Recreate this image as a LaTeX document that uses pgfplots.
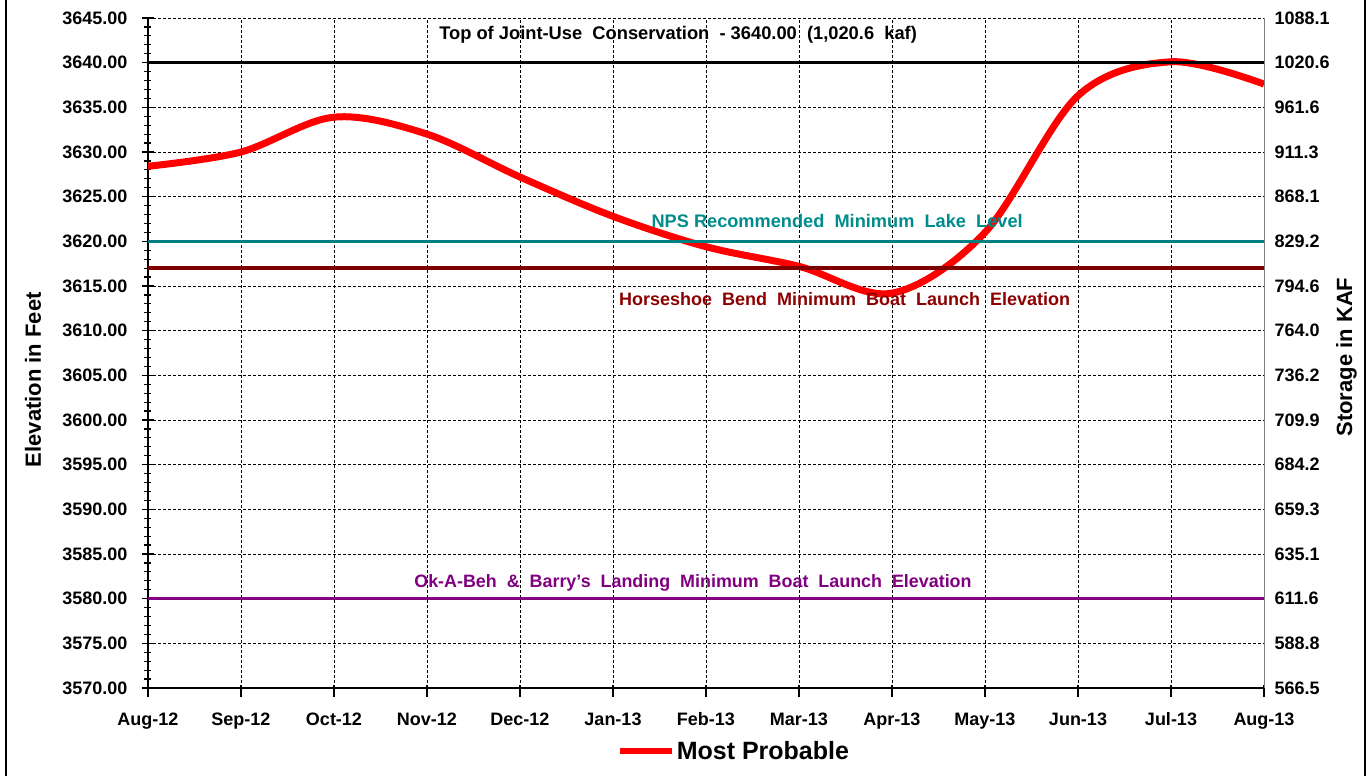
\documentclass[border=0pt]{standalone}
\usepackage{fontspec}
\setmainfont{Liberation Sans}
\usepackage{pgfplots}
\pgfplotsset{compat=1.18}
\definecolor{myteal}{RGB}{0,128,128}
\definecolor{mydred}{RGB}{128,0,0}
\definecolor{mypurple}{RGB}{128,0,128}
\definecolor{tealtext}{RGB}{0,140,140}
\definecolor{dredtext}{RGB}{140,0,0}
\begin{document}
\begin{tikzpicture}
\useasboundingbox (-148pt,-88pt) rectangle (1220pt,688pt);
\draw[line width=1.5pt] (-142pt,-88pt) -- (-142pt,688pt);
\draw[line width=1.5pt] (1217pt,-88pt) -- (1217pt,688pt);
\begin{axis}[
  at={(0pt,0pt)}, anchor=south west,
  scale only axis, width=1116pt, height=670pt,
  xmin=0, xmax=12, ymin=3570, ymax=3645,
  axis x line*=bottom, axis y line*=left,
  axis line style={line width=1.2pt, -},
  xtick={0,...,12},
  xticklabels={Aug-12,Sep-12,Oct-12,Nov-12,Dec-12,Jan-13,Feb-13,Mar-13,Apr-13,May-13,Jun-13,Jul-13,Aug-13},
  ytick={3570,3575,...,3645},
  yticklabels={3570.00,3575.00,3580.00,3585.00,3590.00,3595.00,3600.00,3605.00,3610.00,3615.00,3620.00,3625.00,3630.00,3635.00,3640.00,3645.00},
  minor y tick num=4,
  tick align=center,
  major tick length=12pt, minor tick length=7pt,
  tick style={line width=1.2pt, black},
  x tick style={yshift=-3pt},
  grid=major,
  major grid style={dash pattern=on 3pt off 2pt, line width=0.9pt, black},
  xticklabel style={font=\bfseries\fontsize{18}{20}\selectfont, yshift=-15pt},
  yticklabel style={font=\bfseries\fontsize{18}{20}\selectfont, xshift=-11pt},
  every axis y label/.style={at={(axis description cs:-0.103,0.46)}, rotate=90, anchor=center, font=\bfseries\fontsize{22}{24}\selectfont},
  ylabel={Elevation in Feet},
  legend style={at={(0.525,-0.094)}, anchor=center, draw=none, fill=none, font=\bfseries\fontsize{25}{28}\selectfont},
  legend image code/.code={\draw[#1,line width=6pt] (0pt,0pt) -- (52pt,0pt);},
]
\addplot[red, line width=7pt, smooth, tension=0.55] coordinates {
  (0,3628.4) (1,3630.0) (2,3633.9) (3,3632.0) (4,3627.2) (5,3622.8) (6,3619.4)
  (7,3617.2) (8,3614.2) (9,3621.0) (10,3636.3) (11,3640.1) (12,3637.6)};
\addlegendentry{Most Probable}
\addplot[black, line width=3.5pt, forget plot] coordinates {(0,3640) (12,3640)};
\addplot[myteal, line width=3.5pt, forget plot] coordinates {(0,3620) (12,3620)};
\addplot[mydred, line width=3.5pt, forget plot] coordinates {(0,3617) (12,3617)};
\addplot[mypurple, line width=3.5pt, forget plot] coordinates {(0,3580) (12,3580)};
\node[font=\bfseries\fontsize{18.3}{20}\selectfont, text=black] at (axis cs:5.70,3643.1) {Top of Joint-Use\ \ Conservation\ \ - 3640.00\ \ (1,020.6\ \ kaf)};
\node[font=\bfseries\fontsize{18.2}{20}\selectfont, text=tealtext] at (axis cs:7.41,3622.3) {NPS Recommended\ \ Minimum\ \ Lake\ \ Level};
\node[font=\bfseries\fontsize{18}{20}\selectfont, text=dredtext] at (axis cs:7.49,3613.55) {Horseshoe\ \ Bend\ \ Minimum\ \ Boat\ \ Launch\ \ Elevation};
\node[font=\bfseries\fontsize{17.9}{20}\selectfont, text=mypurple] at (axis cs:5.86,3581.75) {Ok-A-Beh\ \ \&\ \ Barry's\ \ Landing\ \ Minimum\ \ Boat\ \ Launch\ \ Elevation};
\end{axis}
\begin{axis}[
  at={(0pt,0pt)}, anchor=south west,
  scale only axis, width=1116pt, height=670pt,
  xmin=0, xmax=12, ymin=3570, ymax=3645,
  axis x line=none, axis y line*=right,
  axis line style={gray, line width=1pt, -},
  ytick={3570,3575,...,3645},
  yticklabels={566.5,588.8,611.6,635.1,659.3,684.2,709.9,736.2,764.0,794.6,829.2,868.1,911.3,961.6,1020.6,1088.1},
  major tick length=0pt,
  yticklabel style={font=\bfseries\fontsize{18}{20}\selectfont, anchor=west, xshift=7pt},
  every axis y label/.style={at={(axis description cs:1.074,0.494)}, rotate=90, anchor=center, font=\bfseries\fontsize{22}{24}\selectfont},
  ylabel={Storage in KAF},
]
\end{axis}
\end{tikzpicture}
\end{document}
